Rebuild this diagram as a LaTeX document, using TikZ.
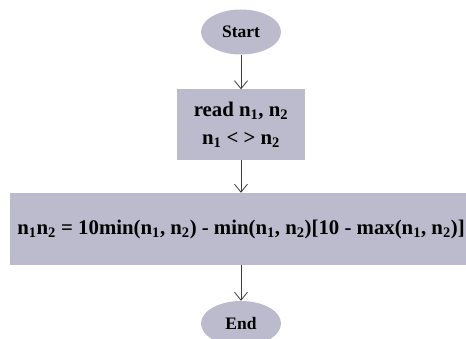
\documentclass[tikz,border=0pt]{standalone}
\usepackage{fontspec}
\setmainfont{Liberation Serif}
\usepackage{tikz}
\usetikzlibrary{arrows.meta,shapes.geometric}
\definecolor{LilaCaja}{RGB}{188,186,205}
\definecolor{GrisFlecha}{RGB}{60,60,60}
\newcommand{\nsub}[1]{n\textsubscript{#1}}

\begin{document}
\begin{tikzpicture}[x=1pt,y=1pt,>={Straight Barb[length=8pt,width=13pt]},
  caja/.style={fill=LilaCaja,inner sep=0pt,align=center,font=\fontsize{20.8}{28}\selectfont\bfseries},
  terminal/.style={caja,ellipse,minimum width=80pt,minimum height=45pt,font=\fontsize{17.5}{20}\selectfont\bfseries},
  flecha/.style={->,GrisFlecha,line width=0.8pt}]
  \useasboundingbox (0,0) rectangle (466,338);

  \node[terminal] (start) at (241,306) {Start};
  \node[caja,minimum width=128pt,minimum height=70pt] (read) at (241,213.5)
    {read \nsub{1}, \nsub{2}\\ \nsub{1} < > \nsub{2}};
  \node[caja,minimum width=462pt,minimum height=72pt] (calc) at (241,109)
    {\nsub{1}\nsub{2} = 10min(\nsub{1}, \nsub{2}) - min(\nsub{1}, \nsub{2})[10 - max(\nsub{1}, \nsub{2})]};
  \node[terminal] (end) at (241,14.5) {End};

  \draw[flecha] (start) -- (read);
  \draw[flecha] (read) -- (calc);
  \draw[flecha] (calc) -- (end);
\end{tikzpicture}
\end{document}
